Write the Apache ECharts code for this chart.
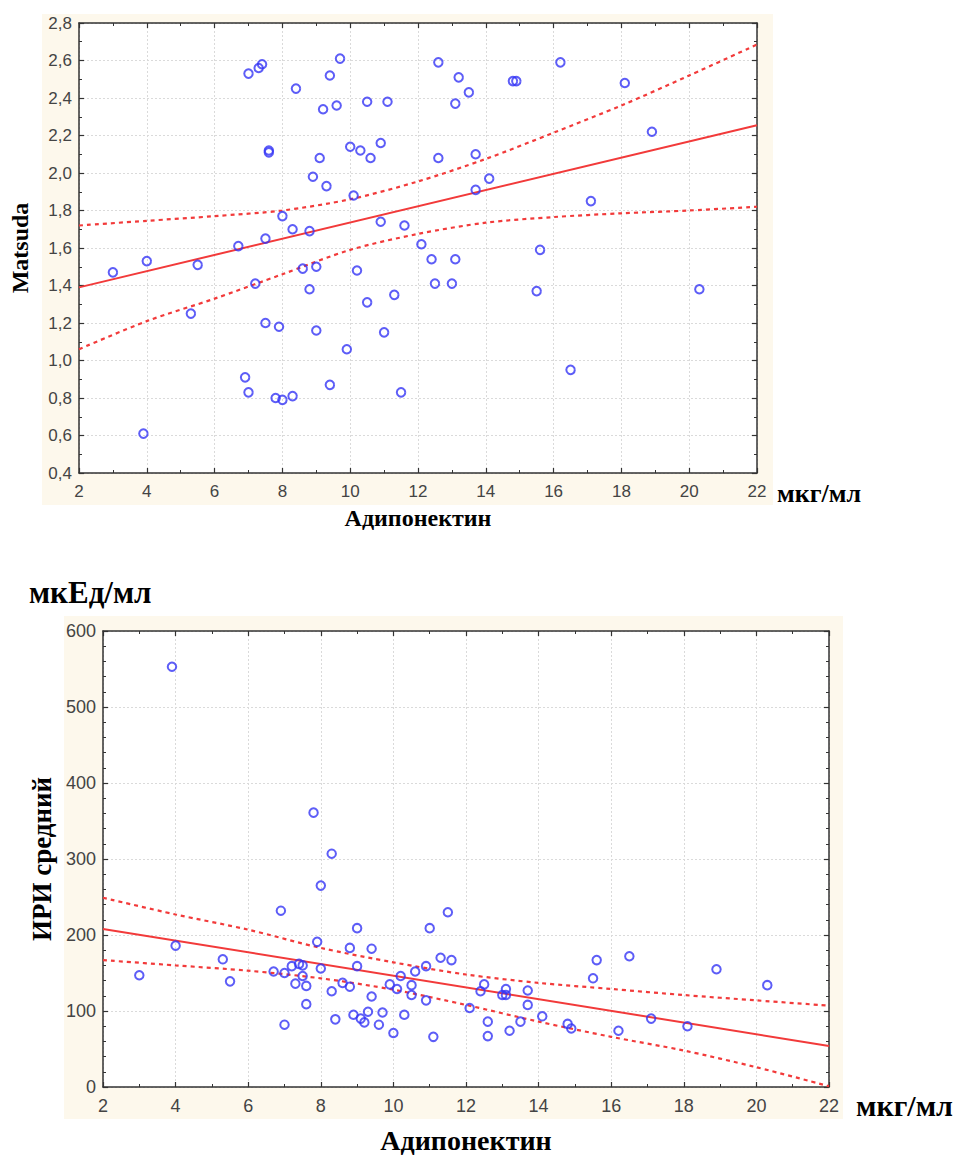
<!DOCTYPE html>
<html><head><meta charset="utf-8">
<script src="https://cdn.jsdelivr.net/npm/echarts@6/dist/echarts.min.js"></script>
<style>html,body{margin:0;padding:0;background:#fff;}#c{width:958px;height:1155px;}</style>
</head><body><div id="c"></div><script>
// ---- Top chart: Адипонектин vs Matsuda ----
const adipoTop = [3.0,4.0,3.9,5.3,5.5,6.7,6.9,7.0,7.0,7.3,7.4,7.2,7.5,7.5,7.6,7.6,7.9,7.8,8.0,8.0,8.3,8.3,8.4,8.6,8.8,8.8,8.9,9.0,9.0,9.1,9.2,9.3,9.4,9.4,9.6,9.7,9.9,10.0,10.1,10.2,10.3,10.5,10.5,10.6,10.9,10.9,11.0,11.1,11.3,11.5,11.6,12.1,12.4,12.5,12.6,12.6,13.0,13.1,13.1,13.2,13.5,13.7,13.7,14.1,14.8,14.9,15.5,15.6,16.2,16.5,17.1,18.1,18.9,20.3];
const matsuda = [1.47,1.53,0.61,1.25,1.51,1.61,0.91,0.83,2.53,2.56,2.58,1.41,1.65,1.20,2.11,2.12,1.18,0.80,0.79,1.77,0.81,1.70,2.45,1.49,1.69,1.38,1.98,1.50,1.16,2.08,2.34,1.93,2.52,0.87,2.36,2.61,1.06,2.14,1.88,1.48,2.12,2.38,1.31,2.08,2.16,1.74,1.15,2.38,1.35,0.83,1.72,1.62,1.54,1.41,2.59,2.08,1.41,1.54,2.37,2.51,2.43,2.10,1.91,1.97,2.49,2.49,1.37,1.59,2.59,0.95,1.85,2.48,2.22,1.38];
const fitX = [2,22];
const fitTop = [1.39,2.255];
const bandX = [2,4,6,8,10,12,14,16,18,20,22];
const upperTop = [1.72,1.745,1.77,1.80,1.86,1.955,2.075,2.215,2.36,2.52,2.685];
const lowerTop = [1.06,1.21,1.33,1.46,1.59,1.675,1.735,1.765,1.785,1.80,1.82];

// ---- Bottom chart: Адипонектин vs ИРИ средний ----
const adipoBot = [3.0,3.9,4.0,5.3,5.5,6.7,6.9,7.0,7.0,7.2,7.3,7.4,7.5,7.5,7.6,7.6,7.8,7.9,8.0,8.0,8.3,8.3,8.4,8.6,8.8,8.8,8.9,9.0,9.0,9.1,9.2,9.3,9.4,9.4,9.6,9.7,9.9,10.0,10.1,10.2,10.3,10.5,10.5,10.6,10.9,10.9,11.0,11.1,11.3,11.5,11.6,12.1,12.4,12.5,12.6,12.6,13.0,13.1,13.1,13.2,13.5,13.7,13.7,14.1,14.8,14.9,15.5,15.6,16.2,16.5,17.1,18.1,18.9,20.3];
const iri = [147,553,186,168,139,152,232,150,82,159,136,162,160,146,133,109,361,191,156,265,126,307,89,137,132,183,95,209,159,90,85,99,182,119,82,98,135,71,129,146,95,134,121,152,159,114,209,66,170,230,167,104,126,135,86,67,121,121,129,74,86,127,108,93,83,77,143,167,74,172,90,80,155,134];
const fitBot = [208,54];
const upperBot = [249,227,207,183,164,148,137,129,121,114,107];
const lowerBot = [167,160,153,143,128,108,86,66,48,26,1];

const xTicksTop = ['2','4','6','8','10','12','14','16','18','20','22'];

const zip = (a,b) => a.map((v,i)=>[v,b[i]]);
const serif = 'Liberation Serif';
const sans = 'Liberation Sans';
const blue = '#3535f5';
const red = '#f23a3a';
const cream = '#fdf8ec';

function axisBase(o){
  return Object.assign({
    type:'value',
    axisLine:{show:true,onZero:false,lineStyle:{color:'#333',width:1.5}},
    axisTick:{show:true,inside:true,length:5,lineStyle:{color:'#333',width:1.2}},
    minorTick:{show:true,splitNumber:2,length:3,lineStyle:{color:'#333',width:1}},
    splitLine:{show:false},
    axisLabel:{show:false}
  }, o);
}
const gridSplit = {show:true,lineStyle:{color:'#dadada',type:[2,2],width:1}};

const chart = echarts.init(document.getElementById('c'), null, {renderer:'svg'});
chart.setOption({
  backgroundColor:'#fff',
  animation:false,
  graphic:[
    {type:'rect',z:-10,shape:{x:42,y:14,width:731,height:491},style:{fill:cream}},
    {type:'rect',z:-10,shape:{x:64,y:616,width:779,height:503},style:{fill:cream}},
    {type:'text',z:10,left:777,top:480,style:{text:'мкг/мл',font:'bold 26px "Liberation Serif"',fill:'#000'}},
    {type:'text',z:10,left:856,top:1090,style:{text:'мкг/мл',font:'bold 30px "Liberation Serif"',fill:'#000'}},
    {type:'text',z:10,left:29,top:577,style:{text:'мкЕд/мл',font:'bold 31px "Liberation Serif"',fill:'#000'}}
  ],
  grid:[
    {left:77,top:23,width:680,height:450,show:true,backgroundColor:'#fff',borderWidth:0},
    {left:103,top:631,width:726,height:457,show:true,backgroundColor:'#fff',borderWidth:0}
  ],
  xAxis:[
    axisBase({gridIndex:0,position:'bottom',min:2,max:22,interval:2,splitLine:gridSplit,
      axisLabel:{show:true,margin:10,fontFamily:sans,fontSize:17,color:'#444',formatter:(v)=>xTicksTop[(v-2)/2]},
      name:'Адипонектин',nameLocation:'middle',nameGap:33,
      nameTextStyle:{fontFamily:serif,fontWeight:'bold',fontSize:24,color:'#000'}}),
    axisBase({gridIndex:0,position:'top',min:2,max:22,interval:2}),
    axisBase({gridIndex:1,position:'bottom',min:2,max:22,interval:2,splitLine:gridSplit,
      axisLabel:{show:true,margin:10,fontFamily:sans,fontSize:18,color:'#444'},
      name:'Адипонектин',nameLocation:'middle',nameGap:39,
      nameTextStyle:{fontFamily:serif,fontWeight:'bold',fontSize:28,color:'#000'}}),
    axisBase({gridIndex:1,position:'top',min:2,max:22,interval:2})
  ],
  yAxis:[
    axisBase({gridIndex:0,position:'left',min:0.4,max:2.8,interval:0.2,splitLine:gridSplit,
      axisLabel:{show:true,margin:7,fontFamily:sans,fontSize:17,color:'#444',formatter:(v)=>v.toFixed(1).replace('.',',')},
      name:'Matsuda',nameLocation:'middle',nameGap:47,nameRotate:90,
      nameTextStyle:{fontFamily:serif,fontWeight:'bold',fontSize:24,color:'#000'}}),
    axisBase({gridIndex:0,position:'right',min:0.4,max:2.8,interval:0.2}),
    axisBase({gridIndex:1,position:'left',min:0,max:600,interval:100,splitLine:gridSplit,
      minorTick:{show:true,splitNumber:5,length:3,lineStyle:{color:'#333',width:1}},
      axisLabel:{show:true,margin:7,fontFamily:sans,fontSize:18,color:'#444'},
      name:'ИРИ средний',nameLocation:'middle',nameGap:47,nameRotate:90,
      nameTextStyle:{fontFamily:serif,fontWeight:'bold',fontSize:27,color:'#000'}}),
    axisBase({gridIndex:1,position:'right',min:0,max:600,interval:100,
      minorTick:{show:true,splitNumber:5,length:3,lineStyle:{color:'#333',width:1}}})
  ],
  series:[
    {type:'line',xAxisIndex:0,yAxisIndex:0,data:zip(fitX,fitTop),showSymbol:false,lineStyle:{color:red,width:2},z:3},
    {type:'line',xAxisIndex:0,yAxisIndex:0,data:zip(bandX,upperTop),smooth:0.3,showSymbol:false,lineStyle:{color:red,width:2.2,type:[4,4]},z:3},
    {type:'line',xAxisIndex:0,yAxisIndex:0,data:zip(bandX,lowerTop),smooth:0.3,showSymbol:false,lineStyle:{color:red,width:2.2,type:[4,4]},z:3},
    {type:'scatter',xAxisIndex:0,yAxisIndex:0,data:zip(adipoTop,matsuda),symbol:'circle',symbolSize:8.5,
      itemStyle:{color:'rgba(0,0,0,0)',borderColor:blue,borderWidth:2},z:4},
    {type:'line',xAxisIndex:2,yAxisIndex:2,data:zip(fitX,fitBot),showSymbol:false,lineStyle:{color:red,width:2},z:3},
    {type:'line',xAxisIndex:2,yAxisIndex:2,data:zip(bandX,upperBot),smooth:0.3,showSymbol:false,lineStyle:{color:red,width:2.2,type:[4,4]},z:3},
    {type:'line',xAxisIndex:2,yAxisIndex:2,data:zip(bandX,lowerBot),smooth:0.3,showSymbol:false,lineStyle:{color:red,width:2.2,type:[4,4]},z:3},
    {type:'scatter',xAxisIndex:2,yAxisIndex:2,data:zip(adipoBot,iri),symbol:'circle',symbolSize:8.5,
      itemStyle:{color:'rgba(0,0,0,0)',borderColor:blue,borderWidth:2},z:4}
  ]
});
</script></body></html>
